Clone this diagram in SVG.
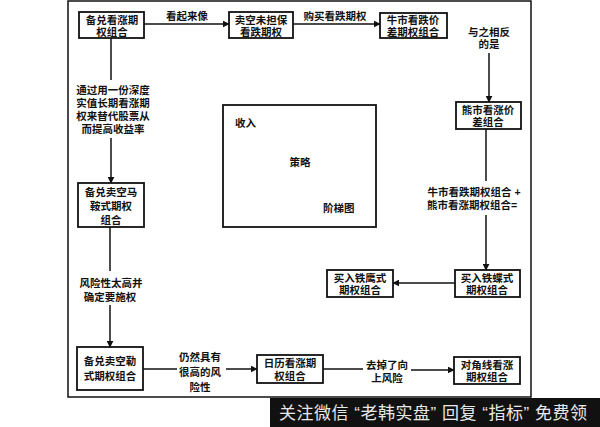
<svg xmlns="http://www.w3.org/2000/svg" width="600" height="427" viewBox="0 0 600 427">
<defs>
<style>
.box{fill:#fff;stroke:#111;stroke-width:1.8}
.ln{stroke:#111;stroke-width:1.5;fill:none}
.t{font-family:"Liberation Sans","Noto Sans CJK SC","Noto Sans CJK TC",sans-serif;font-size:10.5px;font-weight:bold;fill:#111;text-anchor:middle}
.tl{text-anchor:start}
.wm{font-family:"Liberation Sans","Noto Sans CJK SC",sans-serif;font-size:17px;fill:#e8e8e8}
</style>
<marker id="ah" viewBox="0 0 10 10" refX="9" refY="5" markerWidth="7" markerHeight="7" orient="auto" markerUnits="userSpaceOnUse">
<path d="M0,0 L10,5 L0,10 z" fill="#111"/>
</marker>
</defs>
<rect width="600" height="427" fill="#fff"/>
<rect x="68" y="1" width="463" height="396" fill="none" stroke="#111" stroke-width="1.5"/>

<g id="connectors">
<line class="ln" x1="144" y1="24" x2="229" y2="24" marker-end="url(#ah)"/>
<text class="t" x="187" y="20">看起来像</text>
<line class="ln" x1="293" y1="24" x2="380" y2="24" marker-end="url(#ah)"/>
<text class="t" x="335" y="20">购买看跌期权</text>

<text class="t"><tspan x="489" y="36">与之相反</tspan><tspan x="489" y="48">的是</tspan></text>
<line class="ln" x1="489" y1="53" x2="489" y2="102" marker-end="url(#ah)"/>

<line class="ln" x1="486" y1="129" x2="486" y2="181"/>
<text class="t"><tspan x="474" y="196">牛市看跌期权组合 +</tspan><tspan x="472" y="209">熊市看涨期权组合=</tspan></text>
<line class="ln" x1="486" y1="215" x2="486" y2="270" marker-end="url(#ah)"/>

<line class="ln" x1="455" y1="283" x2="393" y2="283" marker-end="url(#ah)"/>

<line class="ln" x1="111" y1="38" x2="111" y2="80"/>
<text class="t"><tspan x="113" y="94">通过用一份深度</tspan><tspan x="113" y="107">实值长期看涨期</tspan><tspan x="113" y="120">权来替代股票从</tspan><tspan x="113" y="133">而提高收益率</tspan></text>
<line class="ln" x1="111" y1="138" x2="111" y2="183" marker-end="url(#ah)"/>

<line class="ln" x1="110" y1="227" x2="110" y2="271"/>
<text class="t"><tspan x="111" y="287">风险性太高并</tspan><tspan x="110" y="301">确定要施权</tspan></text>
<line class="ln" x1="110" y1="305" x2="110" y2="347" marker-end="url(#ah)"/>

<line class="ln" x1="143" y1="369" x2="177" y2="369"/>
<text class="t"><tspan x="200" y="361">仍然具有</tspan><tspan x="200" y="376">很高的风</tspan><tspan x="200" y="391">险性</tspan></text>
<line class="ln" x1="226" y1="369" x2="257" y2="369" marker-end="url(#ah)"/>

<line class="ln" x1="323" y1="369" x2="363" y2="369"/>
<text class="t"><tspan x="387" y="369">去掉了向</tspan><tspan x="387" y="382">上风险</tspan></text>
<line class="ln" x1="411" y1="370" x2="454" y2="370" marker-end="url(#ah)"/>
</g>

<g id="n1"><rect class="box" x="79" y="12" width="65" height="26"/><text class="t"><tspan x="112" y="24">备兑看涨期</tspan><tspan x="112" y="36">权组合</tspan></text></g>
<g id="n2"><rect class="box" x="229" y="12" width="64" height="26"/><text class="t"><tspan x="261" y="24">卖空未担保</tspan><tspan x="261" y="36">看跌期权</tspan></text></g>
<g id="n3"><rect class="box" x="380" y="13" width="67" height="25"/><text class="t"><tspan x="413" y="24">牛市看跌价</tspan><tspan x="413" y="36">差期权组合</tspan></text></g>
<g id="n4"><rect class="box" x="456" y="102" width="65" height="27"/><text class="t"><tspan x="488" y="114">熊市看涨价</tspan><tspan x="488" y="126">差组合</tspan></text></g>
<g id="n5"><rect class="box" x="455" y="270" width="65" height="27"/><text class="t"><tspan x="487" y="282">买入铁蝶式</tspan><tspan x="487" y="294">期权组合</tspan></text></g>
<g id="n6"><rect class="box" x="327" y="270" width="66" height="27"/><text class="t"><tspan x="360" y="282">买入铁鹰式</tspan><tspan x="360" y="294">期权组合</tspan></text></g>
<g id="n7"><rect class="box" x="78" y="183" width="66" height="44"/><text class="t"><tspan x="111" y="196">备兑卖空马</tspan><tspan x="111" y="210">鞍式期权</tspan><tspan x="111" y="224">组合</tspan></text></g>
<g id="n8"><rect class="box" x="77" y="347" width="66" height="43"/><text class="t"><tspan x="110" y="365">备兑卖空勒</tspan><tspan x="110" y="380">式期权组合</tspan></text></g>
<g id="n9"><rect class="box" x="257" y="355" width="66" height="28"/><text class="t"><tspan x="290" y="367">日历看涨期</tspan><tspan x="290" y="380">权组合</tspan></text></g>
<g id="n10"><rect class="box" x="454" y="357" width="66" height="27"/><text class="t"><tspan x="487" y="369">对角线看涨</tspan><tspan x="487" y="381">期权组合</tspan></text></g>
<g id="chart"><rect class="box" x="223" y="105" width="153" height="122"/><text class="t tl" x="235" y="127">收入</text><text class="t" x="300" y="166">策略</text><text class="t tl" x="323" y="212">阶梯图</text></g>

<g id="watermark"><rect x="270" y="398" width="330" height="29" fill="#111"/><text class="wm" x="279" y="419" textLength="308" lengthAdjust="spacing">关注微信 “老韩实盘” 回复 “指标” 免费领</text></g>
</svg>
